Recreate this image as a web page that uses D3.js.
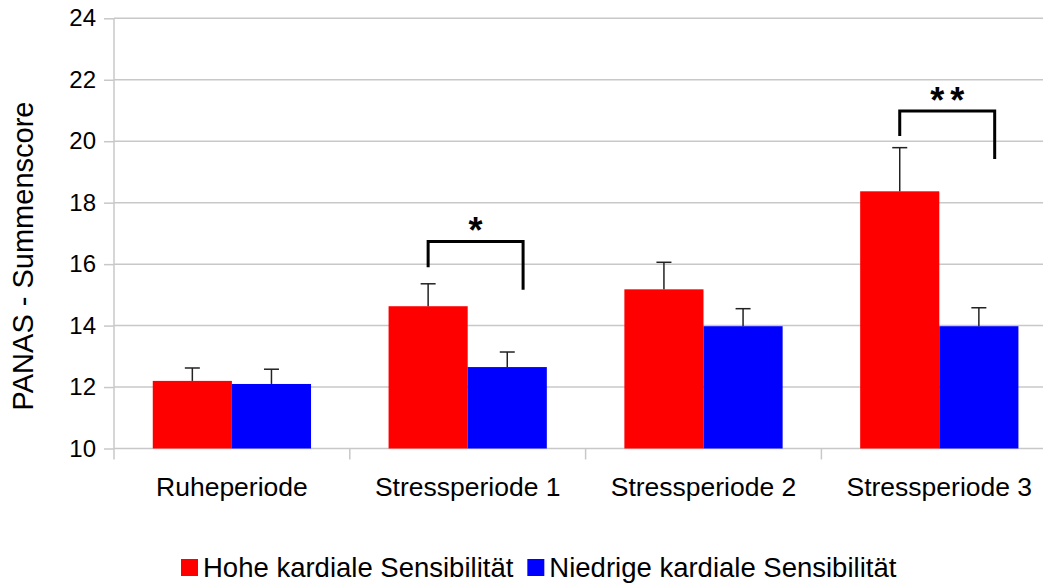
<!DOCTYPE html>
<html>
<head>
<meta charset="utf-8">
<script src="https://cdn.jsdelivr.net/npm/d3@7"></script>
<style>
	body { margin: 0; background: #fff; }
	svg { display: block; font-family: 'Liberation Sans', Arial, sans-serif; }
</style>
</head>
<body>
<svg id="chart" width="1043" height="584"></svg>
<script>
var categories = ['Ruheperiode', 'Stressperiode 1', 'Stressperiode 2', 'Stressperiode 3'];
var series = ['Hohe kardiale Sensibilität', 'Niedrige kardiale Sensibilität'];
var colors = ['#ff0000', '#0000ff'];
var hoheValues = [12.2, 14.63, 15.18, 18.37];
var hoheErrors = [0.42, 0.73, 0.88, 1.42];
var niedrigeValues = [12.1, 12.65, 13.98, 13.98];
var niedrigeErrors = [0.48, 0.49, 0.57, 0.6];
var yTicks = [10, 12, 14, 16, 18, 20, 22, 24];
var yTitle = 'PANAS - Summenscore';
// significance brackets: top line, left leg end, right leg end (score units)
var brackets = [
	{cat: 'Stressperiode 1', top: 16.74, left: 15.9, right: 15.17, label: '*'},
	{cat: 'Stressperiode 3', top: 20.98, left: 20.17, right: 19.42, label: '**'}
];

var svg = d3.select('#chart');
var plotLeft = 114, plotTop = 18.3, plotBottom = 448.5;
var step = 235.8;

var x = d3.scaleBand().domain(categories).range([plotLeft, plotLeft + step * categories.length]);
var x1 = d3.scaleBand().domain(series).range([0, x.bandwidth()]).paddingOuter(0.49);
var y = d3.scaleLinear().domain([10, 24]).range([plotBottom, plotTop]);

var rows = categories.map(function(c, i) {
	return [
		{cat: c, s: series[0], v: hoheValues[i], e: hoheErrors[i], color: colors[0]},
		{cat: c, s: series[1], v: niedrigeValues[i], e: niedrigeErrors[i], color: colors[1]}
	];
});

// grid + y axis
var yAxis = svg.append('g')
	.attr('transform', 'translate(' + plotLeft + ',0)')
	.call(d3.axisLeft(y).tickValues(yTicks).tickSize(10).tickPadding(8));
yAxis.select('.domain').remove();
yAxis.selectAll('line').attr('stroke', '#c8c8c8').attr('stroke-width', 1.5);
yAxis.selectAll('text').attr('font-size', 24).attr('fill', '#000').attr('font-family', 'Liberation Sans, Arial, sans-serif');

svg.append('g').selectAll('line')
	.data(yTicks).enter()
	.append('line')
	.attr('x1', plotLeft).attr('x2', x.range()[1])
	.attr('y1', function(d) { return y(d); })
	.attr('y2', function(d) { return y(d); })
	.attr('stroke', '#c8c8c8').attr('stroke-width', 1.5);

svg.append('line')
	.attr('x1', plotLeft).attr('x2', plotLeft)
	.attr('y1', plotTop).attr('y2', plotBottom + 11)
	.attr('stroke', '#c8c8c8').attr('stroke-width', 1.5);

var xAxis = svg.append('g')
	.attr('transform', 'translate(0,' + plotBottom + ')')
	.call(d3.axisBottom(x).tickSize(0).tickPadding(29));
xAxis.select('.domain').remove();
xAxis.selectAll('text').attr('font-size', 26.5).attr('fill', '#000').attr('font-family', 'Liberation Sans, Arial, sans-serif');

svg.append('g').selectAll('line')
	.data(categories.slice(1)).enter()
	.append('line')
	.attr('x1', function(d) { return x(d); })
	.attr('x2', function(d) { return x(d); })
	.attr('y1', plotBottom).attr('y2', plotBottom + 11)
	.attr('stroke', '#c8c8c8').attr('stroke-width', 1.5);

// bars
var groups = svg.append('g').selectAll('g')
	.data(rows).enter()
	.append('g')
	.attr('transform', function(d) { return 'translate(' + x(d[0].cat) + ',0)'; });

groups.selectAll('rect')
	.data(function(d) { return d; }).enter()
	.append('rect')
	.attr('x', function(d) { return x1(d.s); })
	.attr('y', function(d) { return y(d.v); })
	.attr('width', x1.bandwidth())
	.attr('height', function(d) { return plotBottom - y(d.v); })
	.attr('fill', function(d) { return d.color; });

// error bars
var err = groups.selectAll('g.err')
	.data(function(d) { return d; }).enter()
	.append('g').attr('class', 'err')
	.attr('stroke', '#222').attr('stroke-width', 1.5);
err.append('line')
	.attr('x1', function(d) { return x1(d.s) + x1.bandwidth() / 2; })
	.attr('x2', function(d) { return x1(d.s) + x1.bandwidth() / 2; })
	.attr('y1', function(d) { return y(d.v); })
	.attr('y2', function(d) { return y(d.v + d.e); });
err.append('line')
	.attr('x1', function(d) { return x1(d.s) + x1.bandwidth() / 2 - 7.5; })
	.attr('x2', function(d) { return x1(d.s) + x1.bandwidth() / 2 + 7.5; })
	.attr('y1', function(d) { return y(d.v + d.e); })
	.attr('y2', function(d) { return y(d.v + d.e); });

// significance brackets
function bracketX(d) {
	return [x(d.cat) + x1(series[0]) + x1.bandwidth() / 2,
		x(d.cat) + x1(series[1]) + x1.bandwidth() * 0.7];
}
var br = svg.append('g').selectAll('g')
	.data(brackets).enter()
	.append('g');
br.append('path')
	.attr('fill', 'none').attr('stroke', '#000').attr('stroke-width', 3)
	.attr('d', function(d) {
		var bx = bracketX(d);
		return 'M' + bx[0] + ',' + y(d.left) + 'V' + y(d.top) + 'H' + bx[1] + 'V' + y(d.right);
	});
br.append('text')
	.attr('x', function(d) { var bx = bracketX(d); return (bx[0] + bx[1]) / 2; })
	.attr('y', function(d) { return y(d.top) + 2; })
	.attr('dx', function(d) { return d.label.length > 1 ? 3 : 0; })
	.attr('text-anchor', 'middle')
	.attr('font-size', 36).attr('font-weight', 'bold')
	.attr('letter-spacing', function(d) { return d.label.length > 1 ? 6 : 0; })
	.text(function(d) { return d.label; });

// y title
svg.append('text')
	.attr('transform', 'translate(33,256) rotate(-90)')
	.attr('text-anchor', 'middle')
	.attr('font-size', 29)
	.text(yTitle);

// legend
var legend = svg.append('g').attr('transform', 'translate(181,559)');
var lx = 0;
series.forEach(function(s, i) {
	var item = legend.append('g').attr('transform', 'translate(' + lx + ',0)');
	item.append('rect').attr('width', 17).attr('height', 17).attr('fill', colors[i]);
	var t = item.append('text').attr('x', 22).attr('y', 18).attr('font-size', 27.5).text(s);
	lx += 22 + t.node().getComputedTextLength() + 14;
});
</script>
</body>
</html>
